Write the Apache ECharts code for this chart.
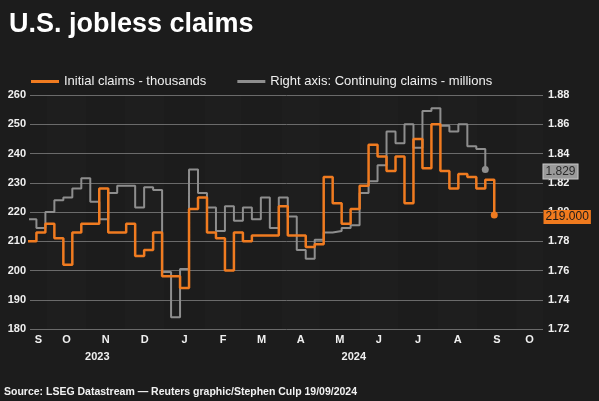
<!DOCTYPE html>
<html>
<head>
<meta charset="utf-8">
<script src="https://cdn.jsdelivr.net/npm/echarts@6/dist/echarts.min.js"></script>
<style>
html,body{margin:0;padding:0;background:#1c1c1c;}
#chart{width:599px;height:401px;}
</style>
</head>
<body>
<div id="chart"></div>
<script>
// ---- data (weekly, week-ending dates) ----
const weekDates = [
 '2023-09-16','2023-09-23','2023-09-30','2023-10-07','2023-10-14','2023-10-21','2023-10-28',
 '2023-11-04','2023-11-11','2023-11-18','2023-11-25','2023-12-02','2023-12-09','2023-12-16',
 '2023-12-23','2023-12-30','2024-01-06','2024-01-13','2024-01-20','2024-01-27','2024-02-03',
 '2024-02-10','2024-02-17','2024-02-24','2024-03-02','2024-03-09','2024-03-16','2024-03-23',
 '2024-03-30','2024-04-06','2024-04-13','2024-04-20','2024-04-27','2024-05-04','2024-05-11',
 '2024-05-18','2024-05-25','2024-06-01','2024-06-08','2024-06-15','2024-06-22','2024-06-29',
 '2024-07-06','2024-07-13','2024-07-20','2024-07-27','2024-08-03','2024-08-10','2024-08-17',
 '2024-08-24','2024-08-31','2024-09-07','2024-09-14'
];
// Initial claims - thousands (left axis)
const initialClaims = [
 210,213,216,211,202,213,216,216,228,213,213,216,205,207,213,198,198,194,221,225,
 213,211,200,213,210,212,212,212,222,212,212,208,209,232,223,216,221,229,243,239,
 234,239,223,245,235,250,234,228,233,232,228,231,219
];
// Continuing claims - millions (right axis), one week behind
const continuingClaims = [
 1.795,1.789,1.800,1.808,1.810,1.816,1.823,1.807,1.795,1.813,1.818,1.818,1.803,1.817,
 1.815,1.759,1.728,1.761,1.829,1.813,1.803,1.787,1.804,1.794,1.803,1.795,1.810,1.789,
 1.810,1.797,1.774,1.768,1.781,1.786,1.787,1.789,1.791,1.813,1.821,1.832,1.855,1.847,
 1.860,1.844,1.869,1.871,1.859,1.855,1.860,1.845,1.843,1.829
];
const leftAxis = {min:180, max:260, interval:10};
const rightAxis = {min:1.72, max:1.88, interval:0.02};
const axisStart = '2023-09-18';
const axisEnd = '2024-10-22';
const monthLetters = ['J','F','M','A','M','J','J','A','S','O','N','D'];
const titleText = 'U.S. jobless claims';
const sourceText = 'Source: LSEG Datastream \u2014 Reuters graphic/Stephen Culp 19/09/2024';
const seriesNames = ['Initial claims - thousands','Right axis: Continuing claims - millions'];

// ---- helpers ----
function ts(s){ const p=s.split('-').map(Number); return new Date(p[0],p[1]-1,p[2]).getTime(); }
const tMin = ts(axisStart), tMax = ts(axisEnd);

const monthCenters = [], bands = [];
{
  const d0 = new Date(tMin); let y=d0.getFullYear(), m=d0.getMonth();
  while (true){
    const s = new Date(y,m,1).getTime();
    if (s >= tMax) break;
    const e = new Date(y,m+1,1).getTime();
    const vs = Math.max(s,tMin), ve = Math.min(e,tMax);
    monthCenters.push((vs+ve)/2);
    if (m % 2 === 1) bands.push([{xAxis:vs},{xAxis:ve}]);
    m++; if (m>11){m=0;y++;}
  }
}
const yearCenters = [];
for (let y=new Date(tMin).getFullYear(); y<=new Date(tMax).getFullYear(); y++){
  const vs=Math.max(new Date(y,0,1).getTime(),tMin), ve=Math.min(new Date(y+1,0,1).getTime(),tMax);
  yearCenters.push((vs+ve)/2);
}

const orangeData = weekDates.map((d,i)=>[ts(d), initialClaims[i]]);
const grayData = continuingClaims.map((v,i)=>[ts(weekDates[i]), v]);
const lastO = orangeData[orangeData.length-1];
const lastG = grayData[grayData.length-1];

const FONT = "'Liberation Sans', Arial, sans-serif";
const ORANGE = '#f07b20', GRAY = '#8e8e8e';

function endTag(val, bg, border, fg){
  return {
    coord:[tMax, val], value:val, symbol:'rect', symbolSize:[1,1],
    itemStyle:{color:'rgba(0,0,0,0)'},
    label:{show:true, position:'right', distance:0, offset:[0,2], formatter:Number(val).toFixed(3),
      color:fg, backgroundColor:bg, borderColor:border, borderWidth:border?1:0,
      padding:[1,2,1,2], fontSize:12, lineHeight:12, fontFamily:FONT}
  };
}

const chart = echarts.init(document.getElementById('chart'), null, {renderer:'canvas'});
chart.setOption({
  backgroundColor:'#1c1c1c',
  animation:false,
  textStyle:{fontFamily:FONT},
  title:[
    {text:titleText, left:9, top:11, padding:0,
     textStyle:{color:'#ffffff', fontSize:27, fontWeight:'bold', fontFamily:FONT}},
    {text:sourceText, left:4, top:387, padding:0,
     textStyle:{color:'#f2f2f2', fontSize:10.5, fontWeight:'bold', fontFamily:FONT}}
  ],
  legend:{
    left:31, top:75, padding:0, itemGap:31, itemWidth:28, itemHeight:3,
    icon:'rect',
    textStyle:{color:'#f0f0f0', fontSize:13, fontFamily:FONT},
    data:[seriesNames[0], seriesNames[1]]
  },
  grid:{left:30, right:56, top:95, bottom:72},
  xAxis:[
    {type:'value', min:tMin, max:tMax, scale:true,
     axisLine:{show:false}, axisTick:{show:false}, splitLine:{show:false},
     axisLabel:{customValues:monthCenters, margin:5, color:'#f0f0f0', fontSize:11, fontWeight:'bold',
       fontFamily:FONT, formatter:v=>monthLetters[new Date(v).getMonth()]}},
    {type:'value', min:tMin, max:tMax, scale:true, position:'bottom',
     axisLine:{show:false}, axisTick:{show:false}, splitLine:{show:false},
     axisLabel:{customValues:yearCenters, margin:22, color:'#f0f0f0', fontSize:11, fontWeight:'bold',
       fontFamily:FONT, formatter:v=>String(new Date(v).getFullYear())}}
  ],
  yAxis:[
    {type:'value', min:leftAxis.min, max:leftAxis.max, interval:leftAxis.interval, position:'left',
     axisLine:{show:false}, axisTick:{show:false},
     splitLine:{show:true, lineStyle:{color:'#6a6a6a', width:1}},
     axisLabel:{margin:4, color:'#f0f0f0', fontSize:11, fontWeight:'bold', fontFamily:FONT}},
    {type:'value', min:rightAxis.min, max:rightAxis.max, interval:rightAxis.interval, position:'right',
     axisLine:{show:false}, axisTick:{show:false}, splitLine:{show:false},
     axisLabel:{margin:5, color:'#f0f0f0', fontSize:11, fontWeight:'bold', fontFamily:FONT,
       formatter:v=>v.toFixed(2)}}
  ],
  series:[
    {name:seriesNames[1], type:'line', xAxisIndex:0, yAxisIndex:1, step:'end', data:grayData,
     showSymbol:false, color:GRAY, lineStyle:{color:GRAY, width:2}, z:2,
     markArea:{silent:true, itemStyle:{color:'rgba(255,255,255,0.013)'}, data:bands},
     markPoint:{silent:true, symbol:'circle', symbolSize:7, itemStyle:{color:GRAY}, label:{show:false},
       data:[{coord:lastG}, endTag(lastG[1], '#9a9a9a', '#c8c8c8', '#2a2a2a')]}
    },
    {name:seriesNames[0], type:'line', xAxisIndex:0, yAxisIndex:0, step:'end', data:orangeData,
     showSymbol:false, color:ORANGE, lineStyle:{color:ORANGE, width:2.5}, z:3,
     markPoint:{silent:true, symbol:'circle', symbolSize:7, itemStyle:{color:ORANGE}, label:{show:false},
       data:[{coord:lastO}, endTag(lastO[1], '#f07a1e', null, '#1a1a1a')]}
    }
  ]
});
</script>
</body>
</html>
